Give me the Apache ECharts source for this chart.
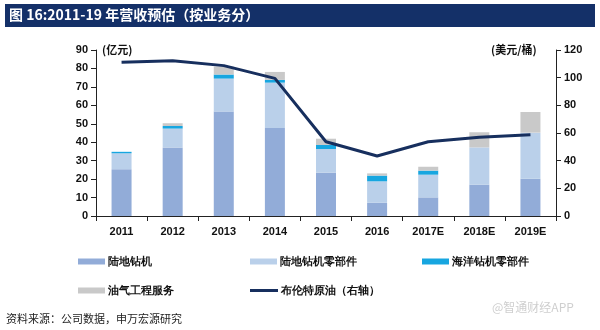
<!DOCTYPE html>
<html>
<head>
<meta charset="utf-8">
<script src="https://cdn.jsdelivr.net/npm/echarts@6/dist/echarts.min.js"></script>
<style>
  html, body { margin: 0; padding: 0; background: #fff; }
  #chart { width: 600px; height: 330px; }
</style>
</head>
<body>
<div id="chart"></div>
<script>
const years = ['2011', '2012', '2013', '2014', '2015', '2016', '2017E', '2018E', '2019E'];
// 亿元
const landRigs = [25.4, 37.2, 56.6, 47.7, 23.5, 7.2, 10.1, 17.0, 20.2];
const landParts = [8.6, 10.2, 17.9, 24.6, 12.8, 11.6, 12.3, 20.2, 25.0];
const offshoreParts = [0.8, 1.4, 2.2, 1.5, 2.2, 3.1, 2.2, 0, 0];
const oilService = [0, 1.5, 4.3, 4.3, 3.4, 1.2, 2.1, 8.2, 11.2];
// 美元/桶
const brent = [111.1, 112.3, 108.7, 99.5, 53.7, 43.4, 53.7, 56.9, 58.8];

const names = ['陆地钻机', '陆地钻机零部件', '海洋钻机零部件', '油气工程服务', '布伦特原油（右轴）'];
const colors = ['#92acd8', '#bad0ea', '#17a6e0', '#c9c9c9', '#172f5e'];

const chart = echarts.init(document.getElementById('chart'));
const font = 'Liberation Sans, Arial, sans-serif';
const labelStyle = { color: '#111', fontSize: 11, fontWeight: 'bold', fontFamily: font };

const legendAt = (name, left, top, isLine) => ({
  data: [isLine ? { name, icon: 'rect', itemStyle: { color: colors[4] } } : { name, icon: 'rect' }],
  left,
  top,
  itemWidth: isLine ? 28 : 27,
  itemHeight: isLine ? 3 : 6,
  itemGap: 0,
  textStyle: { color: '#111', fontSize: 11, fontWeight: 'bold', fontFamily: font, padding: [0, 0, 0, -2] },
});

const barSeries = [landRigs, landParts, offshoreParts, oilService].map((data, i) => ({
  name: names[i],
  type: 'bar',
  stack: 'rev',
  barWidth: 20,
  data,
  itemStyle: { color: colors[i] },
}));

chart.setOption({
  animation: false,
  color: colors,
  grid: { left: 96, right: 44, top: 50, bottom: 114 },
  graphic: [
    { type: 'rect', shape: { x: 5, y: 4, width: 590, height: 23 }, style: { fill: '#143068' } },
    {
      type: 'text', left: 9, top: 8,
      style: { text: '图 16:2011-19 年营收预估（按业务分）', fill: '#fff', fontSize: 14, fontWeight: 'bold', fontFamily: 'Noto Sans CJK SC' },
    },
    {
      type: 'text', left: 102, top: 44,
      style: { text: '(亿元)', fill: '#111', fontSize: 11, fontWeight: 'bold', fontFamily: 'Noto Sans CJK SC' },
    },
    {
      type: 'text', left: 491, top: 44,
      style: { text: '(美元/桶)', fill: '#111', fontSize: 11, fontWeight: 'bold', fontFamily: 'Noto Sans CJK SC' },
    },
    {
      type: 'text', left: 6, top: 313,
      style: { text: '资料来源：公司数据，申万宏源研究', fill: '#222', fontSize: 11, fontFamily: 'Noto Sans CJK SC' },
    },
    {
      type: 'text', left: 492, top: 301,
      style: { text: '@智通财经APP', fill: '#cfcfcf', fontSize: 12, fontFamily: 'Noto Sans CJK SC' },
    },
  ],
  legend: [
    legendAt(names[0], 73, 251, false),
    legendAt(names[1], 245, 251, false),
    legendAt(names[2], 417, 251, false),
    legendAt(names[3], 73, 280, false),
    legendAt(names[4], 245, 280, true),
  ],
  xAxis: {
    type: 'category',
    data: years,
    axisLine: { lineStyle: { color: '#222', width: 1 } },
    axisTick: { show: true, length: 5, lineStyle: { color: '#222' } },
    axisLabel: { ...labelStyle, margin: 10 },
  },
  yAxis: [
    {
      type: 'value',
      min: 0,
      max: 90,
      interval: 10,
      axisLine: { show: true, lineStyle: { color: '#222' } },
      axisTick: { show: true, length: 5, lineStyle: { color: '#222' } },
      splitLine: { show: false },
      axisLabel: { ...labelStyle, margin: 8 },
    },
    {
      type: 'value',
      min: 0,
      max: 120,
      interval: 20,
      position: 'right',
      axisLine: { show: true, lineStyle: { color: '#222' } },
      axisTick: { show: true, length: 5, lineStyle: { color: '#222' } },
      splitLine: { show: false },
      axisLabel: { ...labelStyle, margin: 8 },
    },
  ],
  series: [
    ...barSeries,
    {
      name: names[4],
      type: 'line',
      yAxisIndex: 1,
      data: brent,
      symbol: 'none',
      lineStyle: { color: colors[4], width: 3 },
      itemStyle: { color: colors[4] },
      z: 5,
    },
  ],
});
</script>
</body>
</html>
